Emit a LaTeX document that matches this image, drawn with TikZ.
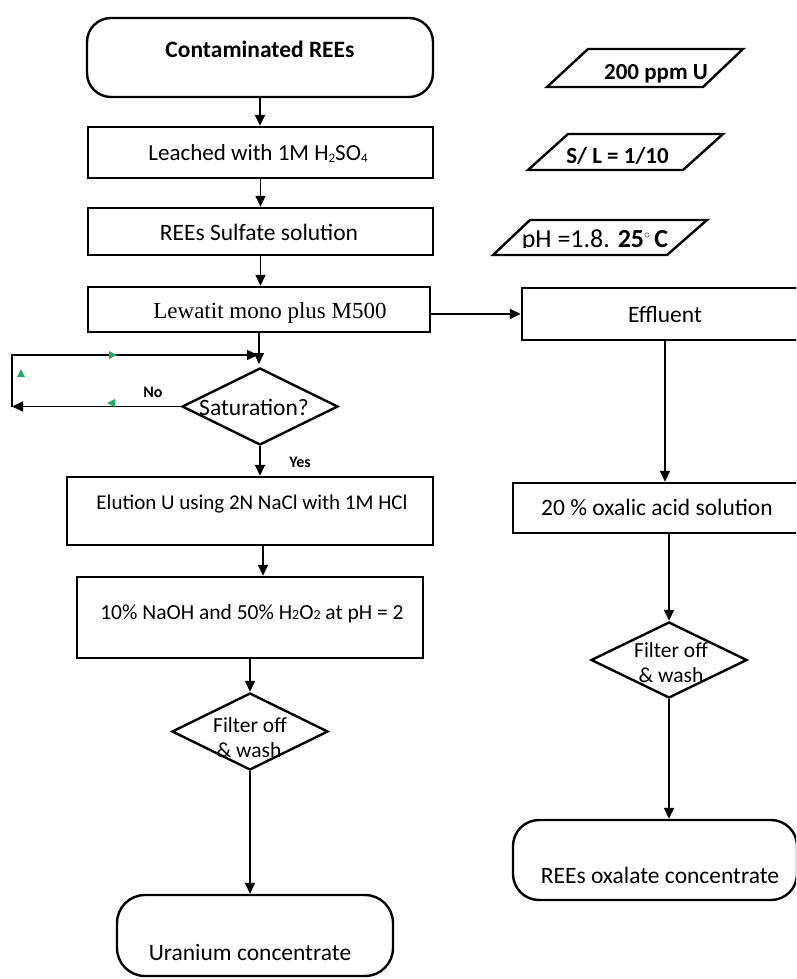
\documentclass[tikz,border=0pt]{standalone}
\usepackage{fontspec}
\setmainfont{Carlito}
\newfontfamily\timesf{Liberation Serif}
\usetikzlibrary{shapes.geometric,arrows.meta}
\newcommand\fsA{\fontsize{23.5}{27}\selectfont}
\newcommand\fsB{\fontsize{23}{27}\selectfont}
\newcommand\fsC{\fontsize{21.5}{25}\selectfont}
\newcommand\fsD{\fontsize{16}{19}\selectfont}
\newcommand\fsE{\fontsize{26}{30}\selectfont}
\newcommand\fsF{\fontsize{21}{25}\selectfont}
\newcommand\fsG{\fontsize{23}{27}\selectfont}
\newcommand\lowsub[1]{\raisebox{-2.5pt}{\fontsize{13}{13}\selectfont #1}}
\definecolor{grn}{RGB}{40,170,100}
\begin{document}
\begin{tikzpicture}[x=1pt,y=-1pt,
  box/.style={draw, line width=2.4pt, inner sep=0pt},
  rbox/.style={box, rounded corners=24pt},
  dbox/.style={draw, diamond, line width=2.4pt, inner sep=0pt},
  para/.style={draw, line width=2.4pt, line join=miter},
  lbl/.style={inner sep=0pt, anchor=base, font=\fsA},
  conn/.style={draw, line width=1.5pt, -{Triangle[length=11pt,width=10pt]}},
  plain/.style={draw, line width=1.5pt}]
\clip (0,0) rectangle (796,979);

% left column boxes
\node[rbox, minimum width=346pt, minimum height=79pt] (start) at (260,57.5) {};
\node[lbl, font=\fsA\bfseries] (startT) at (260,58) {Contaminated REEs};

\node[box, minimum width=345pt, minimum height=51pt] (leach) at (260.5,152.5) {};
\node[lbl, font=\fsB] (leachT) at (258,160) {Leached with 1M H\lowsub{2}SO\lowsub{4}};

\node[box, minimum width=345pt, minimum height=47pt] (sulf) at (260.5,231.5) {};
\node[lbl] (sulfT) at (259,240) {REEs Sulfate solution};

\node[box, minimum width=342pt, minimum height=45pt] (lew) at (259,309.5) {};
\node[lbl, font=\timesf\fsB] (lewT) at (270,318) {Lewatit mono plus M500};

\node[dbox, minimum width=156pt, minimum height=77pt] (sat) at (260,406.5) {};
\node[lbl] (satT) at (254,415) {Saturation?};

\node[box, minimum width=366pt, minimum height=68pt] (elu) at (250,511) {};
\node[lbl, font=\fsF] (eluT) at (252,509) {Elution U using 2N NaCl with 1M HCl};

\node[box, minimum width=346pt, minimum height=81pt] (naoh) at (250,617.5) {};
\node[lbl, font=\fsC] (naohT) at (252,619) {10\% NaOH and 50\% H{\fontsize{14}{14}\selectfont 2}O{\fontsize{14}{14}\selectfont 2} at pH = 2};

\node[dbox, minimum width=156pt, minimum height=77pt] (f1) at (250,731.5) {};
\node[lbl, font=\fsC] (f1a) at (250,732) {Filter off};
\node[lbl, font=\fsC] (f1b) at (249,757) {\& wash};

\node[rbox, rounded corners=28pt, minimum width=276pt, minimum height=81pt] (ur) at (255,935.5) {};
\node[lbl] (urT) at (250,960) {Uranium concentrate};

% right column
\node[box, minimum width=286pt, minimum height=52pt] (eff) at (665,314) {};
\node[lbl] (effT) at (665,322) {Effluent};

\node[box, minimum width=295pt, minimum height=50pt] (oxa) at (660.5,508) {};
\node[lbl] (oxaT) at (657,515) {20 \% oxalic acid solution};

\node[dbox, minimum width=156pt, minimum height=76pt] (f2) at (669,660) {};
\node[lbl, font=\fsC] (f2a) at (671,657) {Filter off};
\node[lbl, font=\fsC] (f2b) at (671,682) {\& wash};

\node[rbox, rounded corners=26pt, minimum width=284pt, minimum height=80pt] (reo) at (655,860) {};
\node[lbl] (reoT) at (660,883) {REEs oxalate concentrate};

% parallelograms
\draw[para] (588,49) -- (743,49) -- (703,87) -- (547,87) -- cycle;
\node[lbl, font=\fsG\bfseries] (p1T) at (656,80) {200 ppm U};
\draw[para] (568,134) -- (723,134) -- (683,170) -- (528,170) -- cycle;
\node[lbl, font=\fsG\bfseries] (p2T) at (617.5,163) {S/ L = 1/10};
\draw[para] (530,220) -- (707,220) -- (667,255) -- (493,255) -- cycle;
\begin{scope}
  \clip (480,200) rectangle (720,247.5);
  \node[lbl, font=\fsE] (p3T) at (595,247) {pH =1.8. \textbf{25}\raisebox{9pt}{\fontsize{12}{12}\selectfont$\circ$}\,\textbf{C}};
\end{scope}

% connectors
\draw[conn] (start.south) -- (start.south |- leach.north);
\draw[conn] (leach.south) -- (leach.south |- sulf.north);
\draw[conn] (sulf.south) -- (sulf.south |- lew.north);
\draw[conn] (eff.west -| lew.east) -- (eff.west);

\coordinate (j) at (262,364);
\draw[conn] (lew.south) -- (lew.south |- j);
\coordinate (lb) at (12,406.5);
\coordinate (lt) at (12,355);
\coordinate (le) at (258,355);
\draw[conn] (sat.west) -- (lb);
\draw[conn] (lb) -- (lt) -- (le);
\fill[grn] (109,351) -- (117,355) -- (109,359) -- cycle;
\fill[grn] (17,377) -- (21,369) -- (25,377) -- cycle;
\fill[grn] (115,399) -- (107,403) -- (115,407) -- cycle;
\node[lbl, font=\fsD\bfseries] (noT) at (153,397) {No};
\node[lbl, font=\fsD\bfseries] (yesT) at (300,467) {Yes};

\draw[conn] (sat.south) -- (sat.south |- elu.north);
\draw[conn] ([xshift=13pt]elu.south) -- ([xshift=13pt]elu.south |- naoh.north);
\draw[conn] (f1.north |- naoh.south) -- (f1.north);
\draw[conn] (f1.south) -- (f1.south |- ur.north);

\draw[conn] (eff.south) -- (eff.south |- oxa.north);
\draw[conn] (f2.north |- oxa.south) -- (f2.north);
\draw[conn] (f2.south) -- (f2.south |- reo.north);
\end{tikzpicture}
\end{document}
